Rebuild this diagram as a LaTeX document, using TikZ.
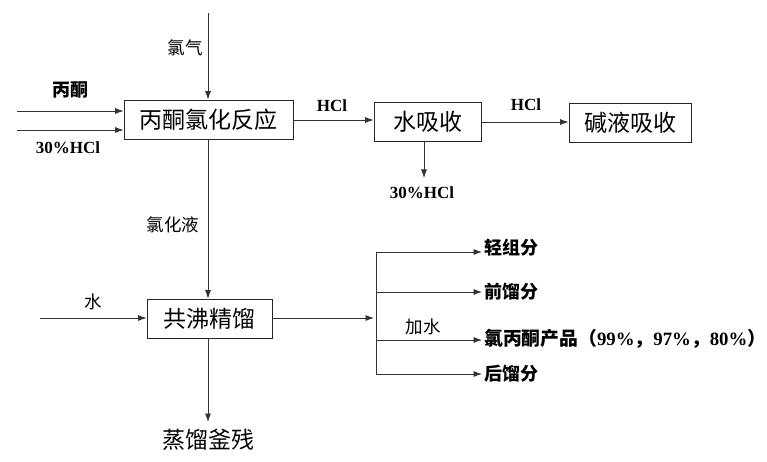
\documentclass[tikz,border=0pt]{standalone}
\usepackage{fontspec}
\setmainfont{Liberation Serif}
\newfontfamily\cjk{Noto Sans CJK SC}
\usetikzlibrary{arrows.meta}
\begin{document}
\begin{tikzpicture}[x=1pt,y=-1pt,
  box/.style={draw=black!85,line width=0.8pt,minimum height=39pt,inner sep=0pt,font=\cjk\fontsize{23}{23}\selectfont},
  line/.style={draw=black!80,line width=0.8pt},
  arr/.style={line,-{Latex[length=8.5pt,width=6pt]}},
  lab/.style={inner sep=0pt,font=\cjk\fontsize{17.5}{17.5}\selectfont},
  blab/.style={inner sep=0pt,font=\cjk\bfseries\fontsize{18}{18}\selectfont},
  elab/.style={inner sep=0pt,font=\bfseries\fontsize{17}{17}\selectfont}]
\useasboundingbox (0,0) rectangle (767,462);
\node[box,minimum width=169pt] (b1) at (208.5,119.5) {丙酮氯化反应};
\node[box,minimum width=107pt] (b2) at (427.5,121.5) {水吸收};
\node[box,minimum width=122pt] (b3) at (630,122.5) {碱液吸收};
\node[box,minimum width=125pt] (b4) at (209.5,318.5) {共沸精馏};
\coordinate (cl) at (208,13);
\coordinate (i1) at (17,111);
\coordinate (i2) at (17,130);
\coordinate (h2) at (424,178);
\coordinate (w) at (40,318);
\coordinate (o4) at (374,318);
\coordinate (bt) at (376,252);
\coordinate (bb) at (376,374);
\coordinate (t1) at (482,252);
\coordinate (t2) at (482,292);
\coordinate (t3) at (482,340);
\coordinate (t4) at (482,374);
\coordinate (res) at (208,422);
\draw[arr] (cl) -- (cl |- b1.north);
\draw[arr] (i1) -- (i1 -| b1.west);
\draw[arr] (i2) -- (i2 -| b1.west);
\draw[arr] (b1.east |- 0,120) -- (b2.west |- 0,120);
\draw[arr] (b2.east |- 0,122) -- (b3.west |- 0,122);
\draw[arr] (h2 |- b2.south) -- (h2);
\draw[arr] (b1.south -| 208,0) -- (b4.north -| 208,0);
\draw[arr] (w) -- (w -| b4.west);
\draw[arr] (b4.east |- o4) -- (o4);
\draw[line] (bt) -- (bb);
\draw[arr] (bt) -- (t1);
\draw[arr] (bt |- t2) -- (t2);
\draw[arr] (bt |- t3) -- (t3);
\draw[arr] (bb) -- (t4);
\draw[arr] (b4.south -| res) -- (res);
\node[lab] (l1) at (185,48) {氯气};
\node[blab] (l2) at (70,90) {丙酮};
\node[elab] (l3) at (68,148) {30\%HCl};
\node[elab] (l4) at (332,106) {HCl};
\node[elab] (l5) at (422,193) {30\%HCl};
\node[elab] (l6) at (526,105) {HCl};
\node[lab] (l7) at (173,225) {氯化液};
\node[lab] (l8) at (93,302) {水};
\node[lab] (l9) at (423,327) {加水};
\node[blab,anchor=west] (r1) at (484,248) {轻组分};
\node[blab,anchor=west] (r2) at (484,292) {前馏分};
\node[blab,anchor=west,font=\cjk\bfseries\fontsize{18.8}{18.8}\selectfont] (r3) at (484,339) {氯丙酮产品（{\rmfamily\bfseries 99\%}，{\rmfamily\bfseries 97\%}，{\rmfamily\bfseries 80\%}）};
\node[blab,anchor=west] (r4) at (484,374) {后馏分};
\node[box,draw=none] (res2) at (208,440) {蒸馏釜残};
\end{tikzpicture}
\end{document}
